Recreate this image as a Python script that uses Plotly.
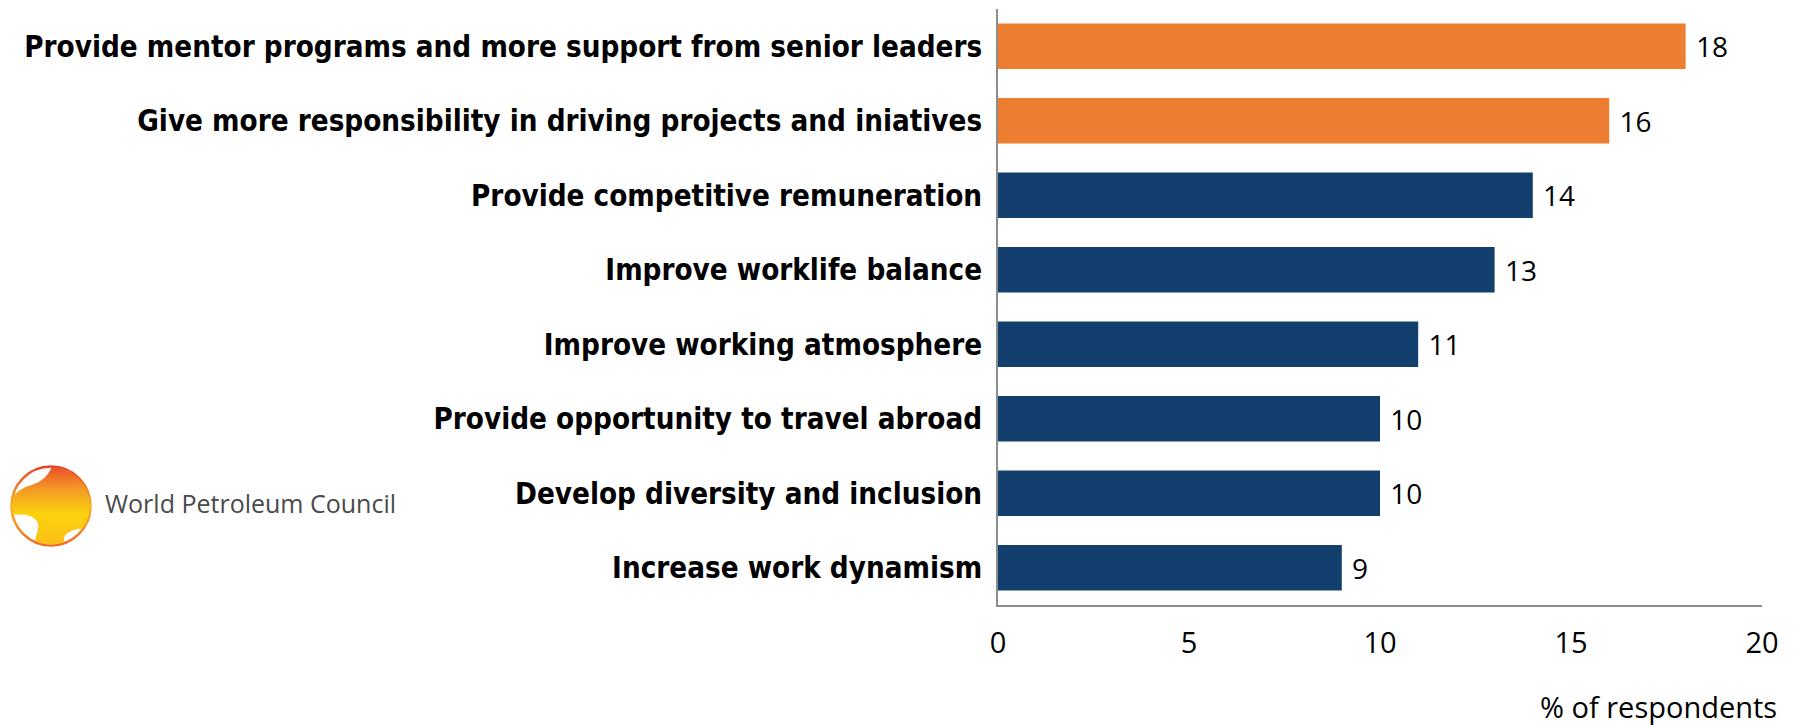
import plotly.graph_objects as go
import urllib.parse

# Survey answers, top to bottom as shown
categories = [
    "Provide mentor programs and more support from senior leaders",
    "Give more responsibility in driving projects and iniatives",
    "Provide competitive remuneration",
    "Improve worklife balance",
    "Improve working atmosphere",
    "Provide opportunity to travel abroad",
    "Develop diversity and inclusion",
    "Increase work dynamism",
]
values = [18, 16, 14, 13, 11, 10, 10, 9]
highlight = [True, True, False, False, False, False, False, False]
x_ticks = [0, 5, 10, 15, 20]

ORANGE = "#ED7D31"
NAVY = "#123F6D"
colors = [ORANGE if h else NAVY for h in highlight]

W, H = 1794, 725
M_L, M_R, M_T, M_B = 998, 32, 9, 120

fig = go.Figure(
    go.Bar(
        x=values,
        y=categories,
        orientation="h",
        marker=dict(color=colors, line=dict(width=0)),
        text=values,
        texttemplate=" %{x}",
        textposition="outside",
        textfont=dict(family="Open Sans", size=28, color="#000000"),
        cliponaxis=False,
        width=0.61,
    )
)

fig.update_layout(
    width=W,
    height=H,
    margin=dict(l=M_L, r=M_R, t=M_T, b=M_B),
    paper_bgcolor="white",
    plot_bgcolor="white",
    showlegend=False,
    xaxis=dict(
        range=[0, 20],
        tickvals=x_ticks,
        showgrid=False,
        zeroline=False,
        showline=True,
        linecolor="#8c8c8c",
        linewidth=2,
        ticks="",
        ticklabelstandoff=11,
        tickfont=dict(family="Open Sans", size=29, color="#000000"),
    ),
    yaxis=dict(
        categoryorder="array",
        categoryarray=categories[::-1],
        range=[-0.5, 7.5],
        showgrid=False,
        zeroline=False,
        showline=True,
        linecolor="#8c8c8c",
        linewidth=2,
        ticks="",
        ticklabelstandoff=8,
        tickfont=dict(family="DejaVu Sans Condensed", size=29.3, color="#000000", weight="bold"),
    ),
)

# Axis caption below the scale
fig.add_annotation(
    text="% of respondents",
    xref="paper", yref="paper",
    x=(1779 - M_L) / (W - M_L - M_R), y=-(706 - (H - M_B)) / (H - M_T - M_B),
    xanchor="right", yanchor="middle",
    showarrow=False,
    font=dict(family="Open Sans", size=29, color="#000000"),
)

# Council emblem: ring with a flowing gradient ribbon inside
emblem_svg = """<svg xmlns='http://www.w3.org/2000/svg' width='100' height='100' viewBox='0 0 100 100'>
<defs>
<linearGradient id='g' x1='0' y1='0' x2='0' y2='1'>
<stop offset='0' stop-color='#e9452a'/>
<stop offset='0.3' stop-color='#f39a24'/>
<stop offset='0.6' stop-color='#fcd30f'/>
<stop offset='1' stop-color='#f9bd1a'/>
</linearGradient>
<linearGradient id='r' x1='0' y1='0' x2='0' y2='1'>
<stop offset='0' stop-color='#e8452a'/>
<stop offset='0.5' stop-color='#f8b31c'/>
<stop offset='1' stop-color='#ef6a2a'/>
</linearGradient>
<clipPath id='c'><circle cx='50' cy='50' r='46'/></clipPath>
</defs>
<circle cx='50' cy='50' r='47' fill='white' stroke='url(#r)' stroke-width='3'/>
<path clip-path='url(#c)' d='M52 0 C48 14 38 22 24 26 C12 30 4 38 0 46 L0 62
C14 58 30 60 34 70 C38 80 26 90 34 100 L72 100 C62 92 64 84 74 80 C86 74 96 80 100 74
L100 0 Z' fill='url(#g)'/>
</svg>"""
fig.add_layout_image(
    source="data:image/svg+xml;utf8," + urllib.parse.quote(emblem_svg),
    xref="paper", yref="paper",
    x=(9 - M_L) / (W - M_L - M_R), y=1 + (M_T - 464) / (H - M_T - M_B),
    sizex=84 / (W - M_L - M_R), sizey=84 / (H - M_T - M_B),
    xanchor="left", yanchor="top",
    sizing="stretch",
    layer="above",
)
fig.add_annotation(
    text="World Petroleum Council",
    xref="paper", yref="paper",
    x=(103 - M_L) / (W - M_L - M_R), y=1 + (M_T - 503) / (H - M_T - M_B),
    xanchor="left", yanchor="middle",
    showarrow=False,
    font=dict(family="Open Sans", size=25, color="#4a4a4a"),
)

fig.write_html("out.html")
